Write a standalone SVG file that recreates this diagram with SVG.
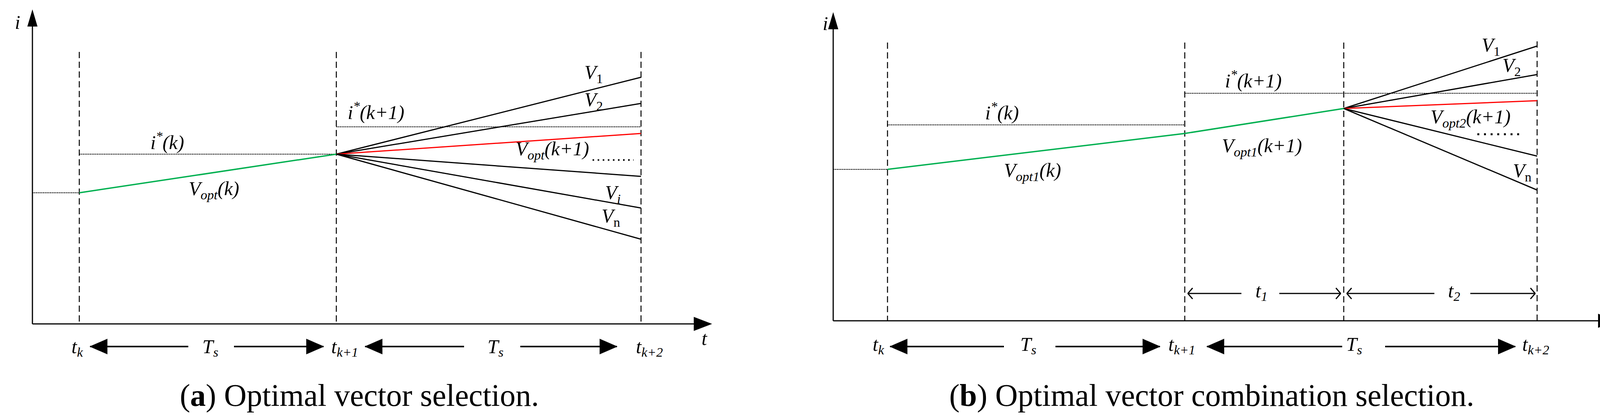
<svg xmlns="http://www.w3.org/2000/svg" width="4175" height="1066" viewBox="0 0 4175 1066">
<style>
text{font-family:"Liberation Serif",serif;font-style:italic;font-size:50px;fill:#000}
.sub{font-size:34px}
.cap{font-style:normal;font-size:80px}
.ax{stroke:#000;stroke-width:3;fill:none}
.ds{stroke:#000;stroke-width:2.5;stroke-dasharray:16 9;fill:none}
.dt{stroke:#000;stroke-width:2;stroke-dasharray:3 1.5;fill:none}
.fan{stroke:#000;stroke-width:3;fill:none}
.arr{stroke:#000;stroke-width:4;fill:none}
.thin{stroke:#000;stroke-width:3;fill:none}
</style>
<defs>
<marker id="fh" markerWidth="46" markerHeight="40" refX="44" refY="20" orient="auto-start-reverse" markerUnits="userSpaceOnUse"><path d="M0,0 L46,20 L0,40 Z" fill="#000"/></marker>
<marker id="oh" markerWidth="14" markerHeight="30" refX="13" refY="15" orient="auto-start-reverse" markerUnits="userSpaceOnUse"><path d="M1,1 L13,15 L1,29" fill="none" stroke="#000" stroke-width="3"/></marker>
</defs>
<g id="panel-a">
<g id="axes-a">
<line class="ax" x1="83" y1="830" x2="83" y2="68"/><path d="M70,68 L83,24 L96,68 Z"/>
<line class="ax" x1="83" y1="830" x2="1780" y2="830"/><path d="M1776,812 L1823,830 L1776,848 Z"/>
<text x="38" y="74">i</text><text x="1796" y="884">t</text>
</g>
<g id="grid-a">
<line class="ds" x1="203" y1="133" x2="203" y2="830"/>
<line class="ds" x1="861" y1="133" x2="861" y2="830"/>
<line class="ds" x1="1641" y1="133" x2="1641" y2="830"/>
</g>
<g id="curves-a">
<line class="dt" x1="83" y1="494" x2="203" y2="494"/>
<line class="dt" x1="203" y1="395" x2="861" y2="395"/>
<line class="dt" x1="861" y1="325" x2="1641" y2="325"/>
<line stroke="#00b050" stroke-width="3.5" x1="203" y1="494" x2="861" y2="395"/>
<line class="fan" x1="861" y1="395" x2="1641" y2="198"/>
<line class="fan" x1="861" y1="395" x2="1641" y2="265"/>
<line stroke="#ff0000" stroke-width="3" x1="861" y1="395" x2="1641" y2="342"/>
<line class="fan" x1="861" y1="395" x2="1641" y2="452"/>
<line class="fan" x1="861" y1="395" x2="1641" y2="533"/>
<line class="fan" x1="861" y1="395" x2="1641" y2="613"/>
<line stroke="#000" stroke-width="4" stroke-dasharray="4 9" x1="1517" y1="410" x2="1622" y2="410"/>
</g>
<g id="labels-a">
<text x="385" y="382">i<tspan class="sub" dy="-22">*</tspan><tspan dy="22">(k)</tspan></text>
<text x="890" y="305">i<tspan class="sub" dy="-22">*</tspan><tspan dy="22">(k+1)</tspan></text>
<text x="483" y="500">V<tspan class="sub" dy="11">opt</tspan><tspan dy="-11">(k)</tspan></text>
<text x="1320" y="398">V<tspan class="sub" dy="11">opt</tspan><tspan dy="-11">(k+1)</tspan></text>
<text x="1496" y="202">V<tspan class="sub" dy="11" font-style="normal">1</tspan></text>
<text x="1496" y="272">V<tspan class="sub" dy="11" font-style="normal">2</tspan></text>
<text x="1549" y="510">V<tspan class="sub" dy="11">i</tspan></text>
<text x="1540" y="570">V<tspan class="sub" dy="11" font-style="normal">n</tspan></text>
</g>
<g id="time-a">
<text x="183" y="905">t<tspan class="sub" dy="9">k</tspan></text>
<line class="arr" x1="482" y1="888" x2="231" y2="888" marker-end="url(#fh)"/>
<text x="518" y="905">T<tspan class="sub" dy="9">s</tspan></text>
<line class="arr" x1="599" y1="888" x2="828" y2="888" marker-end="url(#fh)"/>
<text x="848" y="905">t<tspan class="sub" dy="9">k+1</tspan></text>
<line class="arr" x1="1188" y1="888" x2="935" y2="888" marker-end="url(#fh)"/>
<text x="1248" y="905">T<tspan class="sub" dy="9">s</tspan></text>
<line class="arr" x1="1332" y1="888" x2="1579" y2="888" marker-end="url(#fh)"/>
<text x="1628" y="905">t<tspan class="sub" dy="9">k+2</tspan></text>
</g>
<text class="cap" x="920" y="1040" text-anchor="middle">(<tspan font-weight="bold">a</tspan>) Optimal vector selection.</text>
</g>
<g id="panel-b">
<g id="axes-b">
<line class="ax" x1="2133" y1="822" x2="2133" y2="75"/><path d="M2120,75 L2133,31 L2146,75 Z"/>
<line class="ax" x1="2133" y1="822" x2="4095" y2="822"/><path d="M4091,804 L4141,822 L4091,840 Z"/>
<text x="2106" y="77">i</text><text x="4100" y="876">t</text>
</g>
<g id="grid-b">
<line class="ds" x1="2272" y1="109" x2="2272" y2="822" stroke-width="3"/>
<line class="ds" x1="3033" y1="109" x2="3033" y2="822"/>
<line class="ds" x1="3440" y1="109" x2="3440" y2="822" stroke-width="1.8"/>
<line class="ds" x1="3935" y1="106" x2="3935" y2="822"/>
</g>
<g id="curves-b">
<line class="dt" x1="2133" y1="434" x2="2272" y2="434"/>
<line class="dt" x1="2272" y1="320" x2="3033" y2="320" stroke-width="3"/>
<line class="dt" x1="3033" y1="239" x2="3935" y2="239"/>
<polyline fill="none" stroke="#00b050" stroke-width="3.5" points="2272,434 3033,342 3440,278"/>
<line class="fan" x1="3440" y1="278" x2="3935" y2="118"/>
<line class="fan" x1="3440" y1="278" x2="3935" y2="191"/>
<line stroke="#ff0000" stroke-width="3" x1="3440" y1="278" x2="3935" y2="258"/>
<line class="fan" x1="3440" y1="278" x2="3935" y2="400"/>
<line class="fan" x1="3440" y1="278" x2="3935" y2="487"/>
<line stroke="#000" stroke-width="5" stroke-dasharray="5 12" x1="3782" y1="344" x2="3900" y2="344"/>
</g>
<g id="labels-b">
<text x="2522" y="306">i<tspan class="sub" dy="-22">*</tspan><tspan dy="22">(k)</tspan></text>
<text x="3136" y="224">i<tspan class="sub" dy="-22">*</tspan><tspan dy="22">(k+1)</tspan></text>
<text x="2570" y="453">V<tspan class="sub" dy="11">opt1</tspan><tspan dy="-11">(k)</tspan></text>
<text x="3128" y="390">V<tspan class="sub" dy="11">opt1</tspan><tspan dy="-11">(k+1)</tspan></text>
<text x="3662" y="316">V<tspan class="sub" dy="11">opt2</tspan><tspan dy="-11">(k+1)</tspan></text>
<text x="3793" y="132">V<tspan class="sub" dy="11" font-style="normal">1</tspan></text>
<text x="3846" y="184">V<tspan class="sub" dy="11" font-style="normal">2</tspan></text>
<text x="3873" y="454">V<tspan class="sub" dy="11" font-style="normal">n</tspan></text>
</g>
<g id="intervals-b">
<line class="thin" x1="3178" y1="752" x2="3041" y2="752" marker-end="url(#oh)"/>
<text x="3214" y="762">t<tspan class="sub" dy="9">1</tspan></text>
<line class="thin" x1="3275" y1="752" x2="3432" y2="752" marker-end="url(#oh)"/>
<line class="thin" x1="3672" y1="752" x2="3448" y2="752" marker-end="url(#oh)"/>
<text x="3707" y="762">t<tspan class="sub" dy="9">2</tspan></text>
<line class="thin" x1="3764" y1="752" x2="3930" y2="752" marker-end="url(#oh)"/>
</g>
<g id="time-b">
<text x="2234" y="899">t<tspan class="sub" dy="9">k</tspan></text>
<line class="arr" x1="2570" y1="888" x2="2279" y2="888" marker-end="url(#fh)"/>
<text x="2612" y="899">T<tspan class="sub" dy="9">s</tspan></text>
<line class="arr" x1="2702" y1="888" x2="2969" y2="888" marker-end="url(#fh)"/>
<text x="2991" y="899">t<tspan class="sub" dy="9">k+1</tspan></text>
<line class="arr" x1="3436" y1="888" x2="3090" y2="888" marker-end="url(#fh)"/>
<text x="3446" y="899">T<tspan class="sub" dy="9">s</tspan></text>
<line class="arr" x1="3546" y1="888" x2="3879" y2="888" marker-end="url(#fh)"/>
<text x="3897" y="899">t<tspan class="sub" dy="9">k+2</tspan></text>
</g>
<text class="cap" x="3102" y="1040" text-anchor="middle">(<tspan font-weight="bold">b</tspan>) Optimal vector combination selection.</text>
</g>
</svg>
